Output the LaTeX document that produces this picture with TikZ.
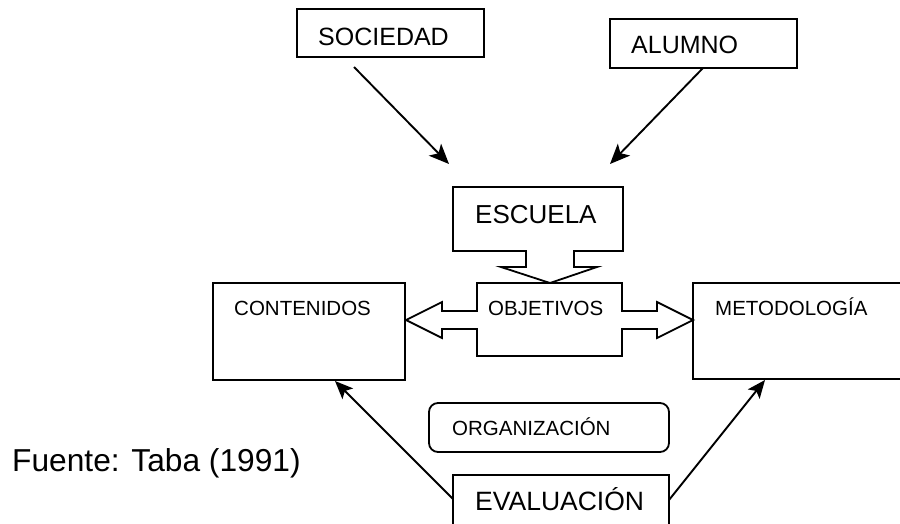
\documentclass[tikz,border=0pt]{standalone}
\usepackage{fontspec}
\setmainfont{Liberation Sans}
\usetikzlibrary{arrows.meta}
\tikzset{
  box/.style={draw=black, line width=1.8pt, rectangle, inner sep=0pt, fill=white},
  rbox/.style={box, rounded corners=9pt},
  big/.style={inner sep=0pt, anchor=base west, font=\fontsize{25}{30}\selectfont},
  small/.style={inner sep=0pt, anchor=base west, font=\fontsize{20.5}{25}\selectfont},
  huge/.style={inner sep=0pt, anchor=base west, font=\fontsize{31.7}{38}\selectfont},
  arr/.style={line width=1.9pt, -{Stealth[length=20pt, width=17pt, inset=5pt]}},
  arrs/.style={line width=1.9pt, -{Stealth[length=18pt, width=15pt, inset=4pt]}},
  callout/.style={draw=black, line width=1.8pt, fill=white, line join=miter}
}
\begin{document}
\begin{tikzpicture}[x=1pt, y=-1pt]
\clip (0,0) rectangle (900,523);
\fill[white] (0,0) rectangle (900,523);

% boxes
\node[box, minimum width=187pt, minimum height=48pt] (soc) at (390.5,33) {};
\node[box, minimum width=187pt, minimum height=49pt] (alu) at (703.5,43.5) {};
\node[box, minimum width=192pt, minimum height=97pt] (con) at (309,331.5) {};
\node[box, minimum width=217pt, minimum height=96pt] (met) at (801.5,331) {};
\node[rbox, minimum width=240pt, minimum height=49pt] (org) at (549,427.5) {};
\node[box, minimum width=216pt, minimum height=55pt] (eva) at (561,502.5) {};

% ESCUELA callout (down arrow)
\draw[callout] (453,187) -- (623,187) -- (623,251) -- (574,251) -- (574,267) -- (597,267)
  -- (550,283) -- (501,267) -- (526,267) -- (526,251) -- (453,251) -- cycle;
\coordinate (esc) at (538,219);

% OBJETIVOS callout (left-right arrow)
\draw[callout] (477,283) -- (622,283) -- (622,311) -- (657,311) -- (657,302) -- (693,320)
  -- (657,338) -- (657,329) -- (622,329) -- (622,356) -- (477,356) -- (477,329)
  -- (442,329) -- (442,338) -- (406,320) -- (442,302) -- (442,311) -- (477,311) -- cycle;
\coordinate (obj) at (549.5,320);

% texts
\node[big] (soct) at (318,45) {SOCIEDAD};
\node[big] (alut) at (631,53) {ALUMNO};
\node[big, font=\fontsize{26}{31}\selectfont] (esct) at (475,223) {ESCUELA};
\node[small] (cont) at (234,315) {CONTENIDOS};
\node[small] (objt) at (488,315) {OBJETIVOS};
\node[small] (mett) at (715,315) {METODOLOGÍA};
\node[small] (orgt) at (452,435) {ORGANIZACIÓN};
\node[big, font=\fontsize{26.5}{32}\selectfont] (evat) at (475,510) {EVALUACIÓN};
\node[huge] (fuente) at (12,471) {Fuente: Taba (1991)};

% connector end points
\coordinate (s1) at (354,67);
\coordinate (s2) at (449,164);
\coordinate (a1) at (703,68);
\coordinate (a2) at (610,164);
\coordinate (e1) at (453,499);
\coordinate (c2) at (335,381);
\coordinate (e2) at (669,500);
\coordinate (m2) at (765,380);

\draw[arr] (s1) -- (s2);
\draw[arr] (a1) -- (a2);
\draw[arrs] (e1) -- (c2);
\draw[arrs] (e2) -- (m2);
\end{tikzpicture}
\end{document}
